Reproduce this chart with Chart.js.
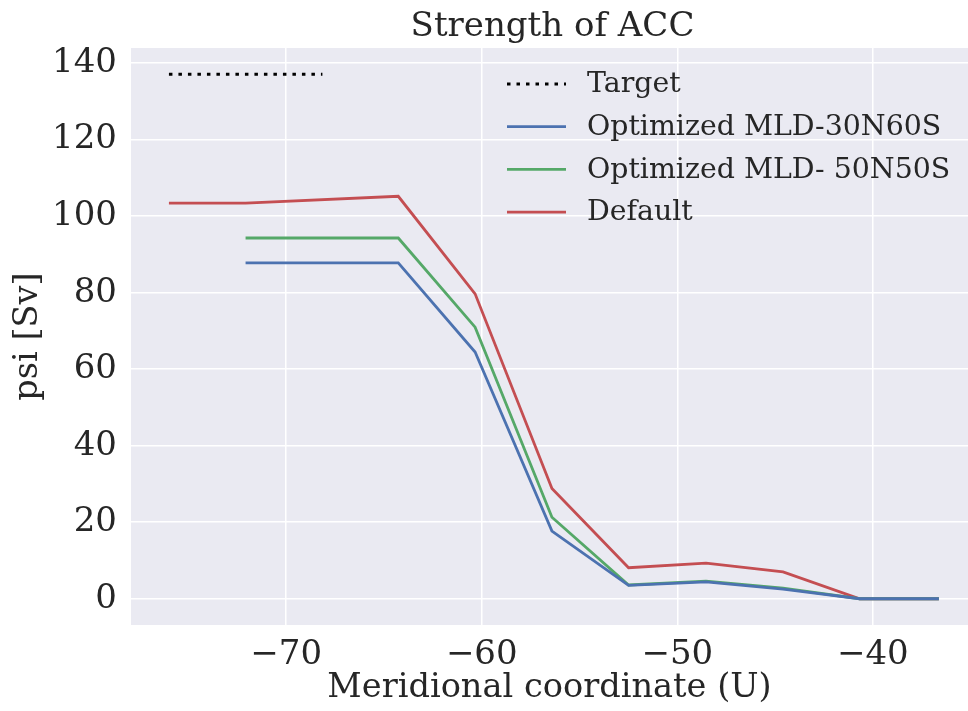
<!DOCTYPE html>
<html>
<head>
<meta charset="utf-8">
<script src="https://cdn.jsdelivr.net/npm/chart.js@4"></script>
<style>
  html, body { margin: 0; padding: 0; background: #ffffff; }
  #wrap { width: 968px; height: 711px; position: relative; }
</style>
</head>
<body>
<div id="wrap"><canvas id="c" width="968" height="711"></canvas></div>
<script>
// ---- data ----
const TITLE = "Strength of ACC";
const X_LABEL = "Meridional coordinate (U)";
const Y_LABEL = "psi [Sv]";
const SERIES_NAMES = ["Target", "Optimized MLD-30N60S", "Optimized MLD- 50N50S", "Default"];

const targetX = [-76.0, -72.08, -68.15];
const targetY = [137.1, 137.1, 137.1];

const optX = [-72.08, -64.27, -60.34, -56.41, -52.49, -48.53, -44.59, -40.67, -36.62];
const opt30N60S = [87.8, 87.8, 64.5, 17.7, 3.5, 4.4, 2.5, 0, 0];
const opt50N50S = [94.3, 94.3, 71.0, 21.3, 3.6, 4.6, 2.8, 0, 0];

const defaultX = [-76.0, -72.08, -64.27, -60.34, -56.41, -52.49, -48.53, -44.59, -40.67, -36.62];
const defaultY = [103.4, 103.4, 105.2, 79.7, 28.8, 8.1, 9.3, 7.0, 0, 0];

const xTicks = [-70, -60, -50, -40];
const yTicks = [0, 20, 40, 60, 80, 100, 120, 140];

// ---- styles ----
const FONT = "'DejaVu Serif', 'Liberation Serif', serif";
const TEXT = "#262626";
const COLORS = ["#000000", "#4C72B0", "#55A868", "#C44E52"];

function pts(xs, ys) { return xs.map((x, i) => ({ x: x, y: ys[i] })); }

const bgPlugin = {
  id: 'bg',
  beforeDraw(chart) {
    const a = chart.chartArea, ctx = chart.ctx;
    ctx.save();
    ctx.fillStyle = '#EAEAF2';
    ctx.fillRect(a.left, a.top, a.right - a.left, a.bottom - a.top);
    ctx.restore();
  }
};

// title centred over the plot area, as matplotlib does
const titlePlugin = {
  id: 'axTitle',
  afterDraw(chart) {
    const a = chart.chartArea, ctx = chart.ctx;
    ctx.save();
    ctx.fillStyle = TEXT;
    ctx.font = "34px " + FONT;
    ctx.textAlign = 'center';
    ctx.textBaseline = 'alphabetic';
    ctx.fillText(TITLE, (a.left + a.right) / 2 + 3, 36);
    ctx.restore();
  }
};

const legendPlugin = {
  id: 'mplLegend',
  afterDatasetsDraw(chart) {
    const ctx = chart.ctx;
    ctx.save();
    const x0 = 507, x1 = 566, tx = 587, y0 = 85, dy = 42.7;
    chart.data.datasets.forEach((ds, i) => {
      const y = y0 + i * dy;
      ctx.beginPath();
      ctx.strokeStyle = ds.borderColor;
      ctx.lineWidth = ds.borderWidth;
      ctx.setLineDash(ds.borderDash || []);
      ctx.lineCap = 'butt';
      ctx.moveTo(x0, y - 1); ctx.lineTo(x1, y - 1);
      ctx.stroke();
      ctx.setLineDash([]);
      ctx.fillStyle = TEXT;
      ctx.font = "28.4px " + FONT;
      ctx.textBaseline = 'middle';
      ctx.textAlign = 'left';
      ctx.fillText(ds.label, tx, y);
    });
    ctx.restore();
  }
};

const fmt = v => (v < 0 ? '\u2212' + Math.abs(v) : String(v));

new Chart(document.getElementById('c'), {
  type: 'line',
  data: {
    datasets: [
      { label: SERIES_NAMES[0], data: pts(targetX, targetY), borderColor: COLORS[0], borderWidth: 3, borderDash: [3.5, 6], pointRadius: 0, fill: false },
      { label: SERIES_NAMES[1], data: pts(optX, opt30N60S), borderColor: COLORS[1], borderWidth: 2.8, pointRadius: 0, fill: false },
      { label: SERIES_NAMES[2], data: pts(optX, opt50N50S), borderColor: COLORS[2], borderWidth: 2.8, pointRadius: 0, fill: false },
      { label: SERIES_NAMES[3], data: pts(defaultX, defaultY), borderColor: COLORS[3], borderWidth: 2.8, pointRadius: 0, fill: false }
    ]
  },
  options: {
    responsive: false,
    animation: false,
    layout: { padding: { top: 48, left: 0, right: 0, bottom: 0 } },
    plugins: {
      legend: { display: false },
      tooltip: { enabled: false },
      title: { display: false }
    },
    scales: {
      x: {
        type: 'linear', min: -77.94, max: -35.13,
        afterFit(s) { s.height = 86; },
        afterBuildTicks(s) { s.ticks = xTicks.map(v => ({ value: v })); },
        border: { display: false },
        grid: { color: '#FFFFFF', lineWidth: 1.5, drawTicks: false },
        ticks: { color: TEXT, font: { family: FONT, size: 34 }, padding: 10, maxRotation: 0, callback: fmt },
        title: { display: true, text: X_LABEL, color: TEXT, font: { family: FONT, size: 33.6, lineHeight: 1.2 }, padding: { top: 0, bottom: 3 } }
      },
      y: {
        type: 'linear', min: -6.86, max: 143.96,
        afterFit(s) { s.width = 131; },
        afterBuildTicks(s) { s.ticks = yTicks.map(v => ({ value: v })); },
        border: { display: false },
        grid: { color: '#FFFFFF', lineWidth: 1.5, drawTicks: false },
        ticks: { color: TEXT, font: { family: FONT, size: 34 }, padding: 14, callback: fmt },
        title: { display: true, text: Y_LABEL, color: TEXT, font: { family: FONT, size: 33.6, lineHeight: 1.2 }, padding: { top: 8, bottom: 0 } }
      }
    }
  },
  plugins: [bgPlugin, titlePlugin, legendPlugin]
});
</script>
</body>
</html>
